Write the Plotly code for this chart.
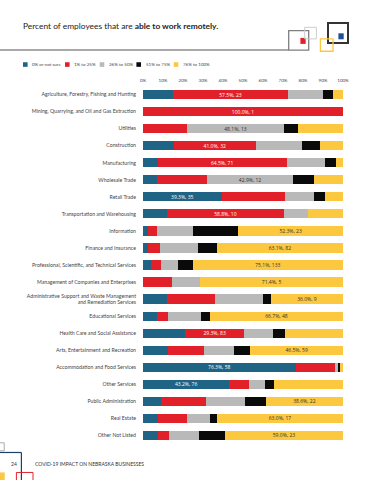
import plotly.graph_objects as go

categories = [
    "Agriculture, Forestry, Fishing and Hunting",
    "Mining, Quarrying, and Oil and Gas Extraction",
    "Utilities",
    "Construction",
    "Manufacturing",
    "Wholesale Trade",
    "Retail Trade",
    "Transportation and Warehousing",
    "Information",
    "Finance and Insurance",
    "Professional, Scientific, and Technical Services",
    "Management of Companies and Enterprises",
    "Administrative Support and Waste Management<br>and Remediation Services",
    "Educational Services",
    "Health Care and Social Assistance",
    "Arts, Entertainment and Recreation",
    "Accommodation and Food Services",
    "Other Services",
    "Public Administration",
    "Real Estate",
    "Other Not Listed",
]

series_names = ["0% or not sure", "1% to 25%", "26% to 50%", "51% to 75%", "76% to 100%"]

pct_0 =   [15.0, 0.0,   0.0,  15.4, 7.3,  7.1,  39.3, 11.8, 2.3,  2.3,  4.0,  0.0,  12.0, 6.9,  21.2, 12.6, 76.3, 43.2, 8.8,  7.4,  7.7]
pct_1 =   [57.5, 100.0, 22.2, 41.0, 64.5, 25.0, 31.5, 58.8, 4.5,  6.2,  5.1,  14.3, 24.0, 5.6,  29.3, 18.1, 19.7, 9.7,  22.8, 14.8, 5.1]
pct_26 =  [17.5, 0.0,   48.1, 23.1, 19.1, 42.9, 14.6, 11.8, 18.2, 19.2, 8.5,  14.3, 24.0, 16.7, 14.5, 15.0, 1.3,  8.0,  19.3, 11.1, 15.4]
pct_51 =  [5.0,  0.0,   7.4,  9.0,  5.5,  10.7, 5.6,  0.0,  22.7, 9.2,  7.3,  0.0,  4.0,  4.2,  6.0,  7.9,  1.3,  4.5,  10.5, 3.7,  12.8]
pct_76 =  [5.0,  0.0,   22.2, 11.5, 3.6,  14.3, 9.0,  17.6, 52.3, 63.1, 75.1, 71.4, 36.0, 66.7, 29.0, 46.5, 1.3,  34.7, 38.6, 63.0, 59.0]

# label shown on each bar: percentage, count, and which series it belongs to
label_pct = [57.5, 100.0, 48.1, 41.0, 64.5, 42.9, 39.3, 58.8, 52.3, 63.1, 75.1, 71.4, 36.0, 66.7, 29.3, 46.5, 76.3, 43.2, 38.6, 63.0, 59.0]
label_n =   [23,   1,     13,   32,   71,   12,   35,   10,   23,   82,   133,  5,    9,    48,   83,   59,   58,   76,   22,   17,   23]
label_series = [1, 1, 2, 1, 1, 2, 0, 1, 4, 4, 4, 4, 4, 4, 1, 4, 0, 0, 4, 4, 4]

x_ticks = [0, 10, 20, 30, 40, 50, 60, 70, 80, 90, 100]
x_tick_labels = ["0%", "10%", "20%", "30%", "40%", "50%", "60%", "70%", "80%", "90%", "100%"]

colors = ["#1f6385", "#e2202a", "#b9b9b9", "#0a0a0a", "#fcc840"]
text_colors = ["#ffffff", "#ffffff", "#333333", "#ffffff", "#333333"]

W, H = 371, 480
L, R, T, B = 143.3, 27.7, 85.5, 35.8
PW, PH = W - L - R, H - T - B


def px(x):
    return (x - L) / PW


def py(y):
    return (H - B - y) / PH


fig = go.Figure()
all_series = [pct_0, pct_1, pct_26, pct_51, pct_76]
for si, (name, vals) in enumerate(zip(series_names, all_series)):
    texts = [
        f"{label_pct[i]:.1f}%, {label_n[i]}" if label_series[i] == si else ""
        for i in range(len(categories))
    ]
    fig.add_trace(go.Bar(
        y=categories, x=vals, name=name, orientation="h",
        marker=dict(color=colors[si], line=dict(width=0)),
        text=texts, textposition="inside", insidetextanchor="middle",
        textangle=0,
        textfont=dict(family="Open Sans", size=5, color=text_colors[si]),
        hoverinfo="skip",
    ))

shapes = []
annotations = []

# title
annotations.append(dict(
    x=px(21), y=py(25.5), xref="paper", yref="paper", xanchor="left", yanchor="middle",
    text="Percent of employees that are <b>able to work remotely.</b>",
    showarrow=False, font=dict(family="Lato", size=8.4, color="#222222"),
))

# legend (drawn)
leg_x = [23.3, 65.3, 100.0, 136.7, 174.0]
leg_y = 64
for i, name in enumerate(series_names):
    x0 = leg_x[i]
    shapes.append(dict(type="rect", xref="paper", yref="paper",
                       x0=px(x0), x1=px(x0 + 4.6), y0=py(leg_y - 2.3), y1=py(leg_y + 2.3),
                       fillcolor=colors[i], line=dict(width=0)))
    annotations.append(dict(
        x=px(x0 + 7.5), y=py(leg_y), xref="paper", yref="paper",
        xanchor="left", yanchor="middle", text=name, showarrow=False,
        font=dict(family="Lato", size=4.5, color="#444444"),
    ))

# decorative line and squares at top
shapes.append(dict(type="line", xref="paper", yref="paper",
                   x0=px(0), x1=px(289), y0=py(49.5), y1=py(49.5),
                   line=dict(color="#8c8c8c", width=1.5)))
shapes.append(dict(type="rect", xref="paper", yref="paper",
                   x0=px(289), x1=px(309), y0=py(49.5), y1=py(30),
                   line=dict(color="#7f7f7f", width=1.3)))
shapes.append(dict(type="rect", xref="paper", yref="paper",
                   x0=px(300.7), x1=px(306), y0=py(43.3), y1=py(37.3),
                   fillcolor="#e2202a", line=dict(width=0)))
shapes.append(dict(type="rect", xref="paper", yref="paper",
                   x0=px(305), x1=px(316.7), y0=py(38.3), y1=py(26.7),
                   line=dict(color="#cccccc", width=1)))
shapes.append(dict(type="rect", xref="paper", yref="paper",
                   x0=px(328.3), x1=px(348.3), y0=py(42.3), y1=py(22.3),
                   line=dict(color="#333333", width=2)))
shapes.append(dict(type="rect", xref="paper", yref="paper",
                   x0=px(338.7), x1=px(344), y0=py(38.7), y1=py(32.7),
                   fillcolor="#1f4e9a", line=dict(width=0)))
shapes.append(dict(type="rect", xref="paper", yref="paper",
                   x0=px(320.7), x1=px(333.3), y0=py(50.7), y1=py(38.3),
                   line=dict(color="#fcc840", width=1.3)))

# decorative bits bottom-left
shapes.append(dict(type="rect", xref="paper", yref="paper",
                   x0=px(-10), x1=px(4.5), y0=py(451), y1=py(443),
                   line=dict(color="#aaaaaa", width=1)))
shapes.append(dict(type="line", xref="paper", yref="paper",
                   x0=px(0), x1=px(21.7), y0=py(452.7), y1=py(452.7),
                   line=dict(color="#1c3f6e", width=1.2)))
shapes.append(dict(type="line", xref="paper", yref="paper",
                   x0=px(21.7), x1=px(21.7), y0=py(452.7), y1=py(485),
                   line=dict(color="#1c3f6e", width=1.2)))
shapes.append(dict(type="rect", xref="paper", yref="paper",
                   x0=px(-5), x1=px(5), y0=py(486), y1=py(472.7),
                   fillcolor="#fcc840", line=dict(width=0)))
shapes.append(dict(type="rect", xref="paper", yref="paper",
                   x0=px(16.7), x1=px(33.3), y0=py(490), y1=py(472.7),
                   line=dict(color="#e2202a", width=1)))

# footer
annotations.append(dict(
    x=px(14.5), y=py(464), xref="paper", yref="paper", xanchor="center", yanchor="middle",
    text="24", showarrow=False, font=dict(family="Lato", size=5, color="#333333"),
))
annotations.append(dict(
    x=px(33), y=py(464), xref="paper", yref="paper", xanchor="left", yanchor="middle",
    text="COVID-19 IMPACT ON NEBRASKA BUSINESSES", showarrow=False,
    font=dict(family="Lato", size=5, color="#333333"),
))

fig.update_layout(
    width=W, height=H,
    margin=dict(l=L, r=R, t=T, b=B, pad=0),
    barmode="stack", bargap=0.46,
    showlegend=False,
    paper_bgcolor="white", plot_bgcolor="white",
    uniformtext=dict(minsize=5, mode="show"),
    shapes=shapes, annotations=annotations,
    font=dict(family="Lato", color="#444444"),
)
fig.update_xaxes(
    range=[0, 100], side="top", tickvals=x_ticks, ticktext=x_tick_labels,
    showgrid=False, zeroline=False, showline=False, ticks="",
    tickfont=dict(family="Lato", size=4.5, color="#444444"),
    ticklabelstandoff=2, fixedrange=True,
)
fig.update_yaxes(
    autorange="reversed", showgrid=False, zeroline=False, showline=False, ticks="",
    tickfont=dict(family="Lato", size=5.2, color="#444444"),
    ticklabelstandoff=6, fixedrange=True,
)

fig.write_html(
    "out.html",
    config={"displayModeBar": False},
    post_script="document.body.style.margin='0px';document.body.style.overflow='hidden';",
)
